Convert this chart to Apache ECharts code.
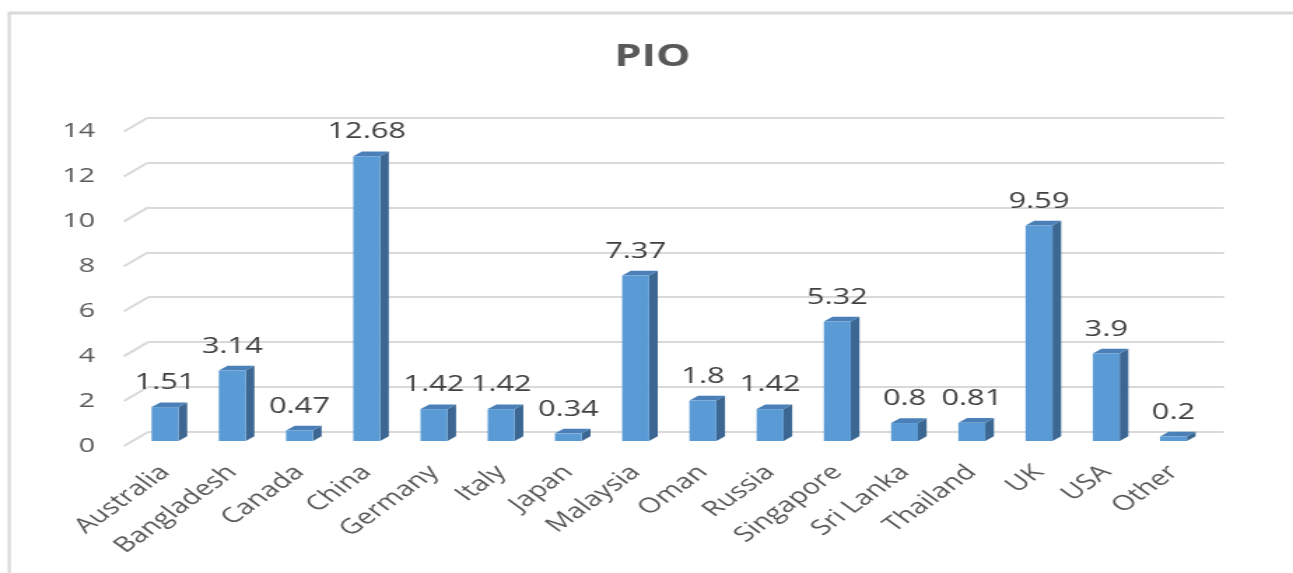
<!DOCTYPE html>
<html>
<head>
<meta charset="utf-8">
<script src="https://cdn.jsdelivr.net/npm/echarts@6/dist/echarts.min.js"></script>
<style>
  html, body { margin: 0; padding: 0; background: #ffffff; overflow: hidden; }
  /* The chart is laid out on a narrower canvas and widened horizontally */
  #chart { width: 924px; height: 573px; transform: scaleX(1.39935); transform-origin: 0 0; }
</style>
</head>
<body>
<div id="chart"></div>
<script>
// Countries on the category axis
const categories = ['Australia', 'Bangladesh', 'Canada', 'China', 'Germany', 'Italy', 'Japan', 'Malaysia',
  'Oman', 'Russia', 'Singapore', 'Sri Lanka', 'Thailand', 'UK', 'USA', 'Other'];
// PIO values per country
const pioValues = [1.51, 3.14, 0.47, 12.68, 1.42, 1.42, 0.34, 7.37, 1.8, 1.42, 5.32, 0.8, 0.81, 9.59, 3.9, 0.2];
// Value-axis ticks
const yTicks = [0, 2, 4, 6, 8, 10, 12, 14];
const yMin = 0, yMax = 14, yStep = 2;

const FONT = '"Open Sans", "Noto Sans", sans-serif';
const FRONT = '#5b9bd5', SIDE = '#3b6792', TOP = '#4a80b7';
const DEPTH_X = 6.2, DEPTH_Y = 4.7;      // bar depth offset
const FLOOR_X = 17.2, FLOOR_Y = 14;      // side-wall slant of the gridlines

const chart = echarts.init(document.getElementById('chart'), null, { renderer: 'canvas' });

const option = {
  backgroundColor: '#ffffff',
  animation: false,
  title: {
    text: 'PIO',
    left: 434,
    top: 37,
    textStyle: { fontFamily: FONT, fontSize: 31, fontWeight: 'bold', color: '#595959' }
  },
  graphic: [
    { type: 'line', shape: { x1: 6.6, y1: 13, x2: 6.6, y2: 600 }, style: { stroke: '#d9d9d9', lineWidth: 2.2 } },
    { type: 'line', shape: { x1: 5.5, y1: 13, x2: 930, y2: 13 }, style: { stroke: '#d9d9d9', lineWidth: 3 } }
  ],
  grid: [
    // back wall with horizontal gridlines
    { left: 105.8, top: 117.5, width: 768.9, height: 314.5 },
    // front edge of the side wall, carries the value labels
    { left: 88.6, top: 131.5, width: 768.9, height: 314.5 },
    // bars
    { left: 93.9, top: 126.5, width: 768.7, height: 314.5 }
  ],
  xAxis: [
    { gridIndex: 0, type: 'value', min: 0, max: 1, show: false },
    { gridIndex: 1, type: 'value', min: 0, max: 1, show: false },
    {
      gridIndex: 2, type: 'category', data: categories,
      axisLine: { show: false }, axisTick: { show: false }, splitLine: { show: false },
      axisLabel: { interval: 0, rotate: 45, margin: 28, color: '#595959', fontSize: 21, fontFamily: FONT }
    }
  ],
  yAxis: [
    {
      gridIndex: 0, type: 'value', min: yMin, max: yMax, interval: yStep,
      axisLine: { show: false }, axisTick: { show: false }, axisLabel: { show: false },
      splitLine: { show: true, lineStyle: { color: '#d9d9d9', width: 2 } }
    },
    {
      gridIndex: 1, type: 'value', min: yMin, max: yMax, interval: yStep,
      axisLine: { show: false }, axisTick: { show: false }, splitLine: { show: false },
      axisLabel: { margin: 20.7, color: '#595959', fontSize: 20.5, fontFamily: FONT }
    },
    { gridIndex: 2, type: 'value', min: yMin, max: yMax, interval: yStep, show: false }
  ],
  series: [
    {
      // slanted side-wall segments of each gridline
      type: 'custom',
      xAxisIndex: 0, yAxisIndex: 0,
      silent: true,
      data: yTicks.map(v => [0, v]),
      renderItem: function (params, api) {
        const p = api.coord([0, api.value(1)]);
        return {
          type: 'line',
          shape: { x1: p[0], y1: p[1], x2: p[0] - FLOOR_X, y2: p[1] + FLOOR_Y },
          style: { stroke: '#d9d9d9', lineWidth: 2 }
        };
      },
      z: 1
    },
    {
      // 3D-style bars: front, side and top faces, with value label
      type: 'custom',
      xAxisIndex: 2, yAxisIndex: 2,
      data: pioValues.map((v, i) => [i, v]),
      renderItem: function (params, api) {
        const v = api.value(1);
        const base = api.coord([api.value(0), 0]);
        const top = api.coord([api.value(0), v]);
        const w = api.size([1, 0])[0] * 0.4;
        const xl = base[0] - w / 2, xr = base[0] + w / 2;
        const y0 = base[1], y1 = top[1];
        return {
          type: 'group',
          children: [
            {
              type: 'polygon',
              shape: { points: [[xr, y1], [xr + DEPTH_X, y1 - DEPTH_Y], [xr + DEPTH_X, y0 - DEPTH_Y], [xr, y0]] },
              style: { fill: SIDE }
            },
            {
              type: 'polygon',
              shape: { points: [[xl, y1], [xl + DEPTH_X, y1 - DEPTH_Y], [xr + DEPTH_X, y1 - DEPTH_Y], [xr, y1]] },
              style: { fill: TOP }
            },
            {
              type: 'rect',
              shape: { x: xl, y: y1, width: w, height: y0 - y1 },
              style: { fill: FRONT }
            },
            {
              type: 'text',
              x: base[0], y: y1 - 24,
              style: {
                text: String(v), fill: '#404040', fontSize: 22, fontFamily: FONT,
                align: 'center', verticalAlign: 'middle'
              }
            }
          ]
        };
      },
      z: 3
    }
  ]
};

chart.setOption(option);
</script>
</body>
</html>
